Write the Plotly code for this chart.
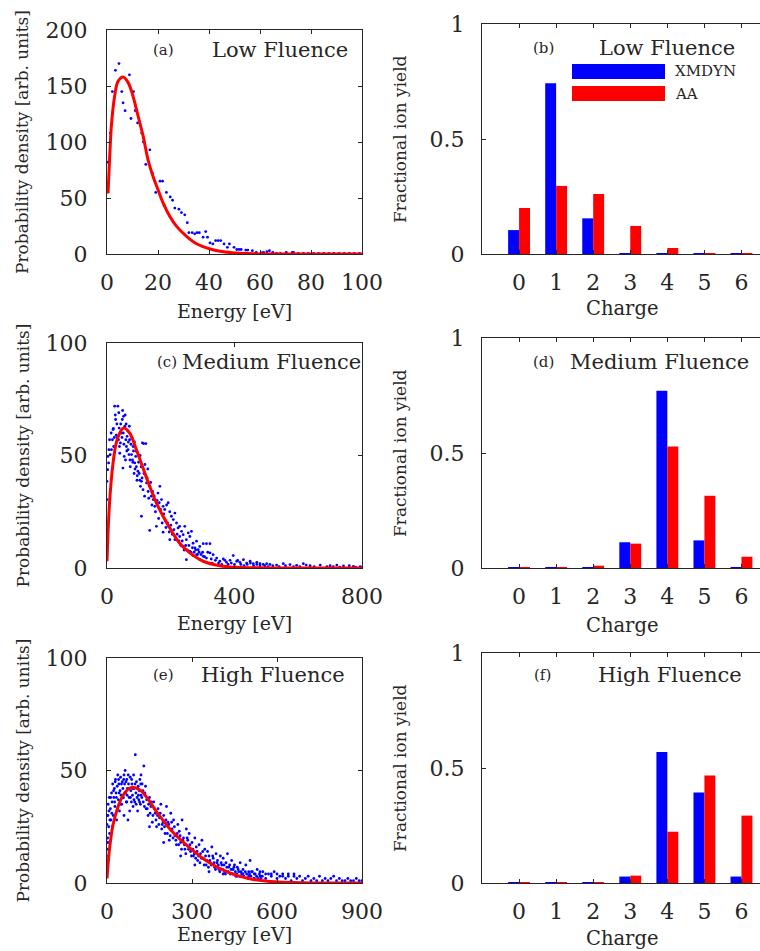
import plotly.graph_objects as go

# ---------------- data ----------------
charges = [0, 1, 2, 3, 4, 5, 6]

low_xmdyn = [0.104, 0.742, 0.155, 0.003, 0.003, 0.003, 0.003]
low_aa = [0.200, 0.296, 0.261, 0.122, 0.026, 0.003, 0.003]
med_xmdyn = [0.003, 0.003, 0.004, 0.112, 0.771, 0.120, 0.003]
med_aa = [0.003, 0.003, 0.010, 0.106, 0.528, 0.314, 0.049]
high_xmdyn = [0.003, 0.003, 0.003, 0.028, 0.570, 0.393, 0.028]
high_aa = [0.003, 0.003, 0.003, 0.032, 0.223, 0.467, 0.293]

# (a) low fluence: XMDYN scatter (energy, density)
low_points = [
    (0.4, 82), (1.3, 108), (2.1, 145), (3.3, 164), (4.7, 170), (5.8, 145), (6.3, 135),
    (7.1, 128), (8.8, 160), (9.4, 121), (10.4, 145), (11.1, 128), (12.0, 117), (13.6, 108),
    (14.3, 100), (15.2, 80), (16.8, 93), (17.8, 72), (19.1, 55), (20.8, 65), (21.8, 65),
    (22.4, 43), (23.3, 55), (24.8, 51), (25.7, 48), (26.6, 41), (28.2, 40), (29.2, 37),
    (30.5, 35), (31.5, 28), (32.1, 19), (33.4, 19), (34.4, 18), (35.3, 19), (36.2, 19),
    (37.7, 15), (38.7, 20), (39.4, 15), (40.4, 10), (41.5, 9), (42.6, 12), (43.6, 12),
    (44.6, 12), (45.9, 9), (47.2, 6), (48.0, 9), (49.8, 6), (50.9, 4), (51.8, 4), (52.6, 4),
    (54.4, 3.5), (55.2, 3.5), (57.0, 3), (58.5, 1.5), (60.7, 1), (61.4, 1.5), (62.7, 2),
    (63.7, 3), (65.0, 1.5), (66.5, 0.5), (68.0, 0.5), (70.3, 1.5), (72.7, 1.5), (73.1, 1.5),
    (75, 0.5), (77, 0.5), (79, 0.5), (81, 0.5), (83, 0.5), (85, 0.5), (87, 0.5), (89, 0.5),
    (91, 0.5), (93, 0.5), (95, 0.5), (97, 0.5), (99, 0.5),
]
# (a) AA curve
low_curve = [
    (0.4, 54), (1.0, 84), (1.7, 114), (3.0, 141), (4.3, 154), (6.3, 158), (8.3, 153),
    (10.2, 141), (12.2, 123), (14.2, 105), (16.1, 84), (18.1, 69), (20.0, 57.5), (22.0, 45.6),
    (24.6, 33.7), (27.3, 24.7), (31.2, 15.8), (35.1, 9.2), (40.4, 4.5), (45.6, 2.0),
    (50.9, 0.9), (57.4, 0.3), (64, 0.05), (80, 0), (100, 0),
]

# (c) medium fluence: XMDYN scatter
med_points = [
    (0, 38.5), (0, 30.4), (2, 43.7), (3, 49.6), (5, 46.7), (6, 52.6), (8, 57), (10, 50.4),
    (13, 60), (14, 52.6), (17, 57), (19, 61.5), (21, 54), (24, 71.9), (27, 66), (29, 59),
    (34, 71.9), (36, 57), (38, 62.2), (40, 51), (42, 55.6), (45, 60), (48, 66), (50, 44.4),
    (52, 67.4), (54, 49.6), (57, 68), (59, 57), (61, 54), (63, 58.5), (66, 52.6), (69, 50.4),
    (71, 57), (73, 45), (77, 50.4), (80, 48), (82, 54), (85, 42), (87, 46.7), (90, 49.6),
    (92, 45), (94, 39), (97, 43), (103, 39), (105, 36.3), (108, 38.5), (111, 55.6),
    (115, 55.3), (122, 55.3), (113, 34.8), (118, 31.9), (124, 37.8), (129, 34), (134, 36.3),
    (139, 31.9), (145, 30.4), (150, 27.4), (155, 28.9), (160, 33.3), (166, 36.3), (171, 30.4),
    (176, 27.4), (181, 26), (187, 28), (192, 29), (197, 25), (202, 23), (208, 21.5),
    (213, 24.4), (218, 20), (223, 17.8), (228, 18.5), (234, 16.3), (239, 14.8), (244, 18.5),
    (249, 12.6), (255, 15.6), (260, 14), (265, 16.3), (270, 11), (276, 8.9), (281, 11.9),
    (286, 8.1), (291, 9.6), (302, 10.8), (312, 10.8), (323, 10.8), (108, 23), (134, 16.7),
    (155, 18.5), (176, 15.9), (197, 12.6), (213, 12.6), (228, 14), (239, 9.6), (249, 3.7),
    (260, 7.4), (270, 5.5), (281, 5.9), (291, 3.7), (302, 5.2), (312, 4.4), (323, 6.7),
    (333, 5.9), (344, 4.4), (354, 3), (365, 4), (375, 2.5), (386, 3.4), (396, 5.5),
    (407, 3), (417, 2.5), (428, 3.7), (438, 2.2), (449, 3), (459, 1.9), (470, 2.5),
    (480, 1.9), (490, 1.6), (501, 1.9), (511, 1.6), (532, 1.3), (553, 1.9), (574, 1.5),
    (595, 1.2), (616, 1.9), (637, 1.0), (669, 1.3), (700, 1.0), (721, 1.3), (742, 0.9),
    (773, 0.7), (794, 0.6), (330, 2.2), (340, 3.4), (350, 2.2), (360, 1.6), (370, 3.4),
    (380, 1.6), (390, 2.2), (400, 1.6), (410, 3.4), (420, 1.6), (430, 1.0), (440, 1.6),
    (450, 2.2), (460, 1.0), (470, 1.6), (480, 1.0), (495, 1.0), (505, 0.6), (520, 1.0),
    (540, 0.6), (560, 1.0), (585, 0.6), (605, 0.6), (625, 1.3), (650, 0.6), (690, 0.6),
    (710, 0.6), (730, 0.4), (760, 1.0), (780, 0.4), (800, 0.4),
    (20, 62), (23, 58), (26, 68), (31, 64), (33, 58), (37, 69), (39, 54), (43, 64), (47, 58),
    (49, 70), (51, 60), (53, 55), (56, 63), (58, 48), (60, 64), (62, 52), (65, 61), (67, 56),
    (70, 63), (72, 48), (75, 55), (78, 58), (81, 47), (83, 52), (86, 56), (88, 44), (91, 52),
    (95, 41), (99, 47), (101, 42), (104, 50), (107, 45), (110, 40), (116, 42), (119, 46),
    (126, 40), (128, 44), (131, 31), (137, 38), (141, 28), (143, 34), (148, 32), (152, 25),
    (157, 30), (162, 22), (164, 29), (168, 26), (173, 20), (178, 24), (183, 21), (185, 18),
    (190, 20), (195, 16), (200, 19), (205, 15), (210, 17), (216, 13), (220, 15), (226, 12),
    (232, 10), (236, 12), (242, 8), (247, 10), (252, 8), (257, 10), (263, 7), (268, 9),
    (273, 7), (278, 8), (284, 6), (289, 7), (295, 6), (300, 7), (306, 5), (316, 7), (327, 4),
]
# (c) AA curve
med_curve = [
    (0, 3), (8, 29), (19, 46.7), (29, 55.6), (40, 60), (52, 62.2), (71, 60), (92, 52.6),
    (113, 44.4), (134, 36.3), (155, 28.9), (176, 23), (197, 17.8), (228, 11), (260, 6.7),
    (302, 3), (354, 1), (407, 0.3), (500, 0.05), (800, 0),
]

# (e) high fluence: XMDYN scatter
high_points = [
    (0, 8), (0, 15), (0, 26), (2, 20), (3, 30), (4, 35), (5, 12), (6, 25), (8, 38), (9, 22),
    (12, 33), (14, 28), (16, 40), (18, 36), (20, 44), (22, 30), (24, 38), (26, 42), (28, 34),
    (30, 46), (32, 40), (34, 28), (36, 43), (38, 48), (40, 37), (42, 44), (44, 32), (46, 41),
    (48, 47), (50, 39), (52, 35), (54, 45), (56, 42), (58, 38), (60, 30), (62, 44), (64, 50),
    (66, 40), (68, 36), (70, 46), (72, 42), (74, 28), (76, 44), (78, 38), (80, 32), (82, 47),
    (84, 41), (86, 36), (88, 44), (90, 39), (92, 34), (94, 48), (96, 42), (98, 36), (100, 57),
    (102, 40), (104, 45), (106, 38), (108, 32), (110, 43), (112, 37), (114, 41), (116, 46),
    (118, 35), (120, 39), (124, 44), (128, 36), (130, 52), (134, 40), (138, 33), (140, 37),
    (145, 30), (150, 38), (155, 34), (160, 27), (165, 36), (170, 31), (175, 25), (180, 33),
    (185, 29), (190, 35), (195, 26), (200, 30), (205, 22), (210, 34), (215, 27), (220, 19),
    (225, 31), (230, 24), (235, 28), (240, 21), (245, 17), (250, 26), (255, 23), (260, 18),
    (265, 28), (270, 20), (275, 15), (280, 24), (285, 19), (290, 22), (295, 14), (300, 18),
    (305, 12), (310, 20), (315, 16), (320, 10), (325, 17), (330, 13), (335, 19), (340, 11),
    (345, 15), (350, 8), (355, 14), (360, 12), (365, 9), (370, 16), (375, 11), (380, 7),
    (385, 13), (390, 10), (395, 6), (400, 12), (405, 8), (410, 11), (415, 5), (420, 9),
    (425, 13), (430, 7), (435, 4), (440, 10), (445, 6), (450, 8), (455, 3), (460, 7),
    (465, 5), (470, 9), (475, 4), (480, 6), (490, 8), (500, 3), (505, 10), (510, 5),
    (520, 4), (530, 6), (540, 3), (550, 5), (560, 2), (570, 4), (580, 3), (590, 5), (600, 2),
    (610, 3), (620, 4), (630, 2), (640, 3), (650, 1), (660, 4), (670, 2), (680, 3), (690, 1),
    (700, 2), (710, 3), (720, 1), (730, 2), (740, 1), (750, 3), (760, 1), (770, 2), (780, 1),
    (790, 2), (800, 3), (810, 1), (820, 2), (830, 1), (840, 1), (850, 2), (860, 1), (870, 1),
    (880, 2), (890, 1), (900, 1), (120, 48), (60, 48), (70, 36), (150, 25), (200, 18),
    (260, 12), (310, 8), (360, 5), (410, 4), (460, 3), (520, 2), (560, 4), (580, 4), (600, 4),
    (620, 3), (640, 4), (660, 3), (480, 4), (500, 5), (540, 5),
    (1, 30), (3, 18), (7, 32), (10, 28), (13, 38), (17, 31), (19, 25), (23, 41), (27, 36),
    (29, 45), (33, 38), (37, 33), (41, 46), (43, 40), (47, 35), (51, 44), (55, 38), (59, 46),
    (63, 40), (67, 45), (71, 39), (75, 48), (79, 42), (83, 38), (87, 46), (91, 42), (95, 37),
    (99, 44), (103, 35), (107, 42), (111, 39), (115, 36), (119, 44), (123, 38), (127, 41),
    (132, 34), (136, 43), (142, 33), (147, 35), (152, 31), (157, 36), (162, 30), (168, 33),
    (173, 28), (178, 30), (183, 26), (188, 31), (193, 24), (198, 27), (203, 25), (208, 28),
    (213, 22), (218, 26), (223, 21), (228, 27), (233, 20), (238, 25), (243, 19), (248, 22),
    (253, 17), (258, 21), (263, 15), (268, 19), (273, 17), (278, 13), (283, 20), (288, 15),
    (293, 17), (298, 12), (303, 15), (308, 13), (313, 11), (318, 14), (323, 12), (328, 9),
    (333, 11), (338, 14), (343, 8), (348, 12), (353, 10), (358, 7), (363, 10), (368, 8),
    (373, 12), (378, 9), (383, 6), (388, 9), (393, 8), (398, 5), (403, 9), (408, 6), (413, 8),
    (418, 4), (423, 7), (428, 5), (433, 8), (438, 6), (443, 4), (448, 7), (453, 5), (458, 4),
    (463, 6), (468, 3), (473, 5), (478, 4), (483, 3), (488, 5), (493, 4), (498, 2), (503, 4),
    (508, 3), (513, 5), (518, 2), (523, 4), (528, 3), (533, 2), (538, 4), (543, 2), (548, 3),
]
# (e) AA curve
high_curve = [
    (0, 2), (9, 15.3), (21, 25.7), (39, 33.9), (57, 39), (74, 41.6), (90, 42.5), (116, 41.3),
    (139, 38.3), (175, 31.6), (198, 27.9), (222, 24), (281, 16.8), (340, 10.8), (399, 6.4),
    (458, 3.4), (516, 1.6), (575, 0.7), (693, 0.15), (900, 0),
]

# ---------------- styling ----------------
W, H = 760, 951
FONT = "DejaVu Serif"
AXC = "#262626"
BLUE = "#0000ff"
RED = "#ff0000"


def fx(px):
    return px / W


def fy(py):
    return 1 - py / H


fig = go.Figure()


def add_energy_panel(n, pts, curve):
    xs = [p[0] for p in pts]
    ys = [p[1] for p in pts]
    fig.add_trace(go.Scatter(x=xs, y=ys, mode="markers", xaxis=f"x{n}", yaxis=f"y{n}",
                             marker=dict(color=BLUE, size=2.8, symbol="circle"),
                             showlegend=False, name="XMDYN"))
    fig.add_trace(go.Scatter(x=[c[0] for c in curve], y=[c[1] for c in curve], mode="lines",
                             xaxis=f"x{n}", yaxis=f"y{n}", line=dict(color=RED, width=3, shape="spline"),
                             showlegend=False, name="AA"))


def add_bar_panel(n, xm, aa):
    fig.add_trace(go.Bar(x=charges, y=xm, xaxis=f"x{n}", yaxis=f"y{n}", marker_color=BLUE,
                         marker_line_width=0, showlegend=False, name="XMDYN"))
    fig.add_trace(go.Bar(x=charges, y=aa, xaxis=f"x{n}", yaxis=f"y{n}", marker_color=RED,
                         marker_line_width=0, showlegend=False, name="AA"))


add_energy_panel(1, low_points, low_curve)
add_bar_panel(2, low_xmdyn, low_aa)
add_energy_panel(3, med_points, med_curve)
add_bar_panel(4, med_xmdyn, med_aa)
add_energy_panel(5, high_points, high_curve)
add_bar_panel(6, high_xmdyn, high_aa)

base_axis = dict(showline=True, linecolor=AXC, linewidth=1, ticks="inside", ticklen=4,
                 tickcolor=AXC, showgrid=False, zeroline=False, automargin=False,
                 tickfont=dict(family=FONT, size=22, color=AXC))

# panel boxes in pixels: (left, right, top, bottom)
left_x = (107, 362)
right_x = (482, 760)
rows_left = [(30, 254), (343, 568), (658, 883)]
rows_right = [(24, 254), (338, 568), (653, 883)]

energy_ranges = [([0, 100], [0, 20, 40, 60, 80, 100], [0, 200], [0, 50, 100, 150, 200]),
                 ([0, 800], [0, 400, 800], [0, 100], [0, 50, 100]),
                 ([0, 900], [0, 300, 600, 900], [0, 100], [0, 50, 100])]

layout_axes = {}
for i in range(3):
    nL = 2 * i + 1
    nR = 2 * i + 2
    xr, xt, yr, yt = energy_ranges[i]
    t, b = rows_left[i]
    layout_axes[f"xaxis{nL}"] = dict(base_axis, domain=[fx(left_x[0]), fx(left_x[1])], range=xr,
                                     tickvals=xt, mirror="ticks", anchor=f"y{nL}",
                                     ticklabelstandoff=9)
    layout_axes[f"yaxis{nL}"] = dict(base_axis, domain=[fy(b), fy(t)], range=yr, tickvals=yt,
                                     mirror="ticks", anchor=f"x{nL}", ticklabelstandoff=14)
    t, b = rows_right[i]
    layout_axes[f"xaxis{nR}"] = dict(base_axis, domain=[fx(right_x[0]), 1.0], range=[-1, 6.5],
                                     tickvals=charges, mirror="ticks", anchor=f"y{nR}",
                                     ticklabelstandoff=9)
    layout_axes[f"yaxis{nR}"] = dict(base_axis, domain=[fy(b), fy(t)], range=[0, 1],
                                     tickvals=[0, 0.5, 1], ticktext=["0", "0.5", "1"],
                                     mirror=False, anchor=f"x{nR}", ticklabelstandoff=12)

annotations = []


def txt(text, px, py, size, xanchor="center", angle=0):
    annotations.append(dict(text=text, x=fx(px), y=fy(py), xref="paper", yref="paper",
                            showarrow=False, xanchor=xanchor, yanchor="middle", textangle=angle,
                            font=dict(family=FONT, size=size, color=AXC)))


# axis titles
for (t, b), ex in zip(rows_left, [311, 623, 934]):
    txt("Energy [eV]", 234.5, ex, 19)
    txt("Probability density [arb. units]", 22, (t + b) / 2, 17, angle=-90)
for (t, b), cy in zip(rows_right, [308, 625, 938]):
    txt("Charge", 622, cy, 19.5)
    txt("Fractional ion yield", 400, (t + b) / 2, 17, angle=-90)

# panel labels
txt("(a)", 163, 50, 15)
txt("Low Fluence", 210, 50, 21, xanchor="left")
txt("(b)", 543, 48, 15)
txt("Low Fluence", 597, 48, 21, xanchor="left")
txt("(c)", 167, 362, 15)
txt("Medium Fluence", 180, 362, 21, xanchor="left")
txt("(d)", 543, 362, 15)
txt("Medium Fluence", 568, 362, 21, xanchor="left")
txt("(e)", 163, 675, 15)
txt("High Fluence", 199, 675, 21, xanchor="left")
txt("(f)", 542, 675, 15)
txt("High Fluence", 596, 675, 21, xanchor="left")

# legend of panel (b)
shapes = [
    dict(type="rect", xref="paper", yref="paper", x0=fx(572), x1=fx(665), y0=fy(79), y1=fy(64),
         fillcolor=BLUE, line=dict(width=0)),
    dict(type="rect", xref="paper", yref="paper", x0=fx(572), x1=fx(665), y0=fy(101), y1=fy(86),
         fillcolor=RED, line=dict(width=0)),
]
txt("XMDYN", 673, 71.5, 15, xanchor="left")
txt("AA", 673, 93.5, 15, xanchor="left")

fig.update_layout(
    width=W, height=H, margin=dict(l=0, r=0, t=0, b=0, pad=0, autoexpand=False),
    paper_bgcolor="white", plot_bgcolor="white",
    barmode="group", bargap=0.41, bargroupgap=0,
    annotations=annotations, shapes=shapes, showlegend=False,
    font=dict(family=FONT, color=AXC),
    **layout_axes,
)

fig.write_html("out.html")
